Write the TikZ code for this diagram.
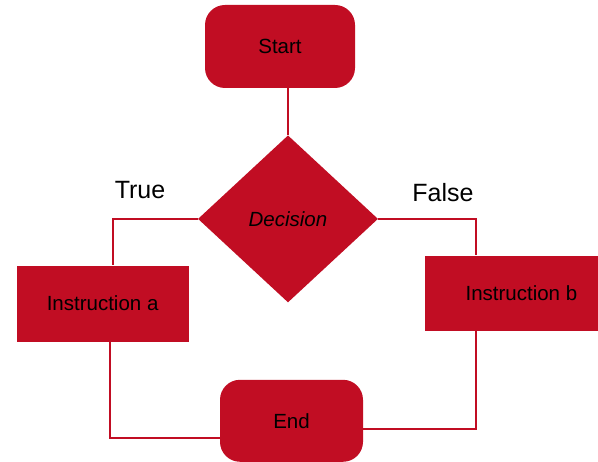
\documentclass[tikz,border=0pt]{standalone}
\usepackage{fontspec}
\setmainfont{Liberation Sans}
\usetikzlibrary{positioning,shapes.geometric}
\definecolor{flowred}{RGB}{193,13,35}

\begin{document}
\begin{tikzpicture}[
  x=1pt, y=1pt,
  font=\fontsize{20.5}{24}\selectfont,
  terminal/.style={fill=flowred, rounded corners=20pt, inner sep=0pt},
  decision/.style={diamond, fill=flowred, minimum width=180pt, minimum height=167pt, inner sep=0pt, font=\fontsize{20.5}{24}\selectfont\itshape},
  instr/.style={fill=flowred, minimum height=76pt, inner sep=0pt},
  lbl/.style={font=\fontsize{25}{30}\selectfont, inner sep=0pt},
  line/.style={draw=flowred, line width=2.2pt}
]

\useasboundingbox (0,0) rectangle (598,462);

\node[terminal, minimum width=150pt, minimum height=83pt] (start) at (280,415.5) {Start};
\node[decision, below=47pt of start, xshift=8pt] (dec) {Decision};
\node[instr, minimum width=172pt, below left=46.5pt and 9pt of dec.west] (ia) {Instruction a};
\node[instr, minimum width=192pt, minimum height=75pt, below right=36.5pt and 47pt of dec.east] (ib) {Instruction b};
\node[terminal, minimum width=143pt, minimum height=82pt, below=77pt of dec, xshift=3.5pt] (end) {End};

\node[lbl] (true) at (140,272) {True};
\node[lbl] (false) at (443,269) {False};

\draw[line] (start.south -| dec.north) -- (dec.north);
\draw[line] (dec.west) -| ([xshift=10pt]ia.north);
\draw[line] (dec.east) -| ([xshift=51pt]ib.north west);
\draw[line] ([xshift=7pt]ia.south) |- ([yshift=-17pt]end.west);
\draw[line] ([xshift=51pt]ib.south west) |- ([yshift=-8pt]end.east);

\end{tikzpicture}
\end{document}
